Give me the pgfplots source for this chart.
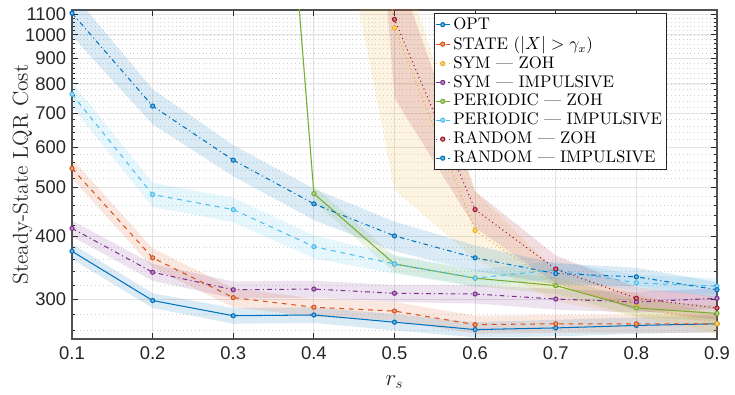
\documentclass[border=0pt]{standalone}
\usepackage{fontspec}
\usepackage{pgfplots}
\usepackage{pgfplotstable}
\pgfplotsset{compat=1.18}
\usepgfplotslibrary{fillbetween}
\newfontfamily\tickfont{Liberation Sans}
\definecolor{c1}{HTML}{0072BD}
\definecolor{c2}{HTML}{D95319}
\definecolor{c3}{HTML}{EDB120}
\definecolor{c4}{HTML}{7E2F8E}
\definecolor{c5}{HTML}{77AC30}
\definecolor{c6}{HTML}{4DBEEE}
\definecolor{c7}{HTML}{A2142F}
\definecolor{axc}{HTML}{262626}

\pgfplotstableread{
x y lo hi
0.1 373 360 386
0.2 298 288 308
0.3 278 268 288
0.4 279 269 289
0.5 270 260 280
0.6 261 252 270
0.7 263 253 273
0.8 266 256 276
0.9 268 258 278
}\optT
\pgfplotstableread{
x y lo hi
0.1 544 520 568
0.2 362 346 378
0.3 302 289 315
0.4 289 277 301
0.5 284 272 296
0.6 267 256 278
0.7 268 257 279
0.8 268 257 279
0.9 268 257 279
}\stateT
\pgfplotstableread{
x y lo hi
0.4 20000 3200 36800
0.5 1032 493 1571
0.6 410 360 490
0.7 319 297 341
0.8 292 277 307
0.9 268 257 279
}\symzohT
\pgfplotstableread{
x y lo hi
0.1 414 399 429
0.2 339 326 352
0.3 313 301 325
0.4 314 302 326
0.5 308 296 320
0.6 307 294 320
0.7 300 286 314
0.8 296 282 310
0.9 301 287 315
}\symimpT
\pgfplotstableread{
x y lo hi
0.3 50000 47500 52500
0.4 485 468 502
0.5 352 339 365
0.6 330 318 342
0.7 319 307 331
0.8 288 277 299
0.9 281 271 291
}\perzohT
\pgfplotstableread{
x y lo hi
0.1 763 720 806
0.2 483 456 510
0.3 451 426 476
0.4 381 361 401
0.5 352 337 367
0.6 330 317 343
0.7 343 329 357
0.8 323 311 335
0.9 318 306 330
}\perimpT
\pgfplotstableread{
x y lo hi
0.4 150000 70000 230000
0.5 1073 750 1400
0.6 451 415 490
0.7 344 322 366
0.8 301 285 317
0.9 288 273 303
}\randzohT
\pgfplotstableread{
x y lo hi
0.1 1104 995 1213
0.2 723 665 781
0.3 565 525 605
0.4 463 430 496
0.5 400 373 427
0.6 362 341 383
0.7 337 321 353
0.8 332 318 346
0.9 313 302 324
}\randimpT

\newcommand{\band}[3]{%
 \addplot[draw=none, name path=#3lo, forget plot] table[x=x,y=lo]{#1};
 \addplot[draw=none, name path=#3hi, forget plot] table[x=x,y=hi]{#1};
 \addplot[fill=#2, fill opacity=0.14, draw=none, forget plot] fill between[of=#3lo and #3hi];
}

\begin{document}
\fontsize{10.5}{12.6}\selectfont
\begin{tikzpicture}
\begin{axis}[
  scale only axis,
  width=403pt, height=205.6pt,
  ymode=log,
  xmin=0.1, xmax=0.9, ymin=250, ymax=1120,
  xtick={0.1,0.2,...,0.9},
  xticklabels={0.1,0.2,0.3,0.4,0.5,0.6,0.7,0.8,0.9},
  ytick={300,400,500,600,700,800,900,1000,1100},
  yticklabels={300,400,500,600,700,800,900,1000,1100},
  minor ytick={260,280,...,1100},
  ticklabel style={font=\tickfont\fontsize{11.5}{13}\selectfont, text=axc},
  xticklabel style={yshift=-1pt},
  axis line style={draw=axc!80, line width=0.7pt},
  tick style={draw=axc, line width=0.5pt},
  major tick length=4pt, minor tick length=2pt,
  grid=both,
  major grid style={draw=gray!22, line width=0.5pt},
  minor grid style={draw=gray!35, dotted, line width=0.4pt},
  xlabel={$r_s$},
  ylabel={Steady-State LQR Cost},
  label style={font=\fontsize{13.5}{15}\selectfont, text=axc},
  ylabel style={at={(rel axis cs:0,0.5)}, anchor=center, yshift=31pt},
  xlabel style={at={(rel axis cs:0.5,0)}, anchor=center, yshift=-27pt},
  legend style={at={(0.922,0.991)}, anchor=north east, draw=axc, line width=0.6pt,
    fill=white, font=\fontsize{10.5}{12}\selectfont, inner sep=0.5pt, row sep=-1.2pt,
    cells={anchor=west}},
  legend image code/.code={%
    \draw[mark repeat=2,mark phase=2] plot coordinates {(0cm,0cm) (0.15cm,0cm) (0.3cm,0cm)};},
  every axis plot/.append style={line width=0.65pt},
]
\band{\optT}{c1}{a}
\band{\stateT}{c2}{b}
\band{\symzohT}{c3}{c}
\band{\symimpT}{c4}{d}
\band{\perzohT}{c5}{e}
\band{\perimpT}{c6}{f}
\band{\randzohT}{c7}{g}
\band{\randimpT}{c1}{h}

\addplot[c1, solid, mark=*, mark size=1.3pt, mark options={solid, fill=c1!55}] table[x=x,y=y]{\optT};
\addlegendentry{OPT}
\addplot[c2, dashed, mark=*, mark size=1.3pt, mark options={solid, fill=c2!55}] table[x=x,y=y]{\stateT};
\addlegendentry{STATE ($|X| > \gamma_x$)}
\addplot[c3, dotted, mark=*, mark size=1.3pt, mark options={solid, fill=c3!55}] table[x=x,y=y]{\symzohT};
\addlegendentry{SYM --- ZOH}
\addplot[c4, dashdotted, mark=*, mark size=1.3pt, mark options={solid, fill=c4!55}] table[x=x,y=y]{\symimpT};
\addlegendentry{SYM --- IMPULSIVE}
\addplot[c5, solid, mark=*, mark size=1.3pt, mark options={solid, fill=c5!55}] table[x=x,y=y]{\perzohT};
\addlegendentry{PERIODIC --- ZOH}
\addplot[c6, dashed, mark=*, mark size=1.3pt, mark options={solid, fill=c6!55}] table[x=x,y=y]{\perimpT};
\addlegendentry{PERIODIC --- IMPULSIVE}
\addplot[c7, dotted, mark=*, mark size=1.3pt, mark options={solid, fill=c7!55}] table[x=x,y=y]{\randzohT};
\addlegendentry{RANDOM --- ZOH}
\addplot[c1, dashdotted, mark=*, mark size=1.3pt, mark options={solid, fill=c1!55}] table[x=x,y=y]{\randimpT};
\addlegendentry{RANDOM --- IMPULSIVE}

\coordinate (bl) at (rel axis cs:0,0);
\coordinate (tr) at (rel axis cs:1,1);
\end{axis}
\pgfresetboundingbox
\path ([shift={(-45pt,-34.4pt)}]bl) rectangle ([shift={(11.25pt,6.25pt)}]tr);
\end{tikzpicture}
\end{document}
